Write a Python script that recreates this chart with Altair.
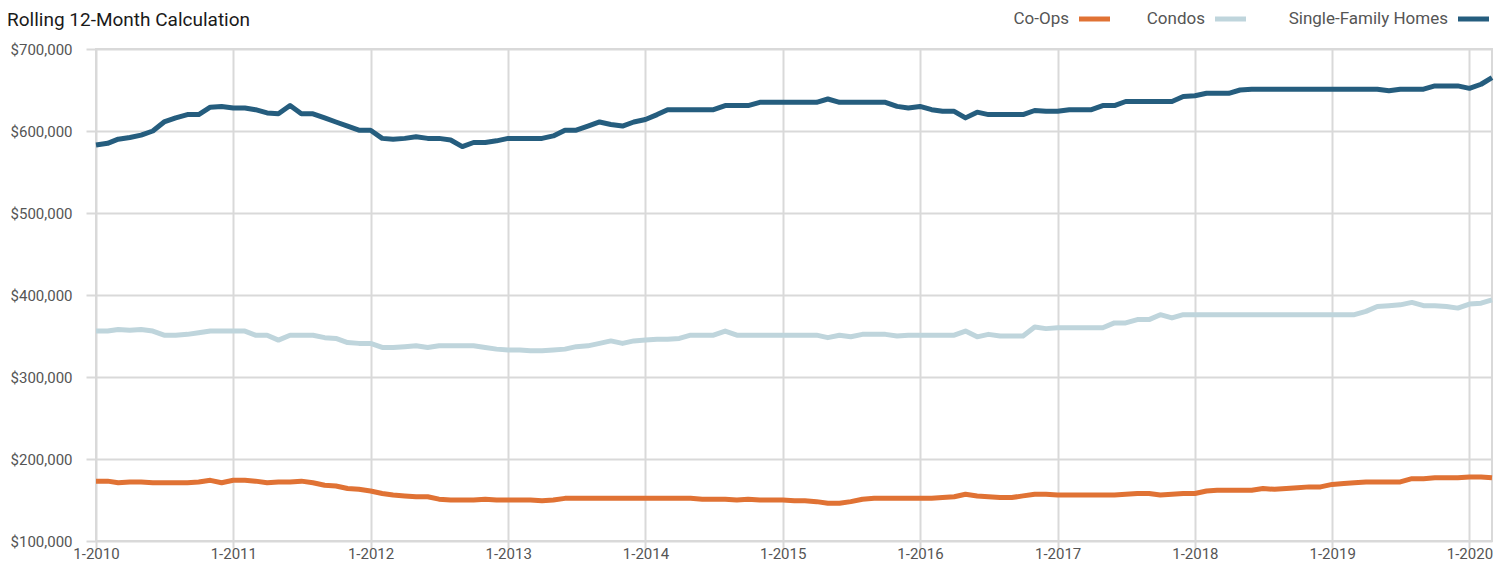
import altair as alt
import pandas as pd

FONT = "Roboto"
GRID = "#d9d9d9"

series_names = ["Co-Ops", "Condos", "Single-Family Homes"]
series_colors = ["#e07234", "#bfd5dc", "#255d7e"]

# monthly, 1-2010 .. 3-2020 (thousands of dollars)
months = pd.date_range("2010-01-01", periods=123, freq="MS")

coops = [
    173, 173, 171, 172, 172, 171, 171, 171, 171, 172, 174, 171,
    174, 174, 173, 171, 172, 172, 173, 171, 168, 167, 164, 163,
    161, 158, 156, 155, 154, 154, 151, 150, 150, 150, 151, 150,
    150, 150, 150, 149, 150, 152, 152, 152, 152, 152, 152, 152,
    152, 152, 152, 152, 152, 151, 151, 151, 150, 151, 150, 150,
    150, 149, 149, 148, 146, 146, 148, 151, 152, 152, 152, 152,
    152, 152, 153, 154, 157, 155, 154, 153, 153, 155, 157, 157,
    156, 156, 156, 156, 156, 156, 157, 158, 158, 156, 157, 158,
    158, 161, 162, 162, 162, 162, 164, 163, 164, 165, 166, 166,
    169, 170, 171, 172, 172, 172, 172, 176, 176, 177, 177, 177,
    178, 178, 177,
]

condos = [
    356, 356, 358, 357, 358, 356, 351, 351, 352, 354, 356, 356,
    356, 356, 351, 351, 345, 351, 351, 351, 348, 347, 342, 341,
    341, 336, 336, 337, 338, 336, 338, 338, 338, 338, 336, 334,
    333, 333, 332, 332, 333, 334, 337, 338, 341, 344, 341, 344,
    345, 346, 346, 347, 351, 351, 351, 356, 351, 351, 351, 351,
    351, 351, 351, 351, 348, 351, 349, 352, 352, 352, 350, 351,
    351, 351, 351, 351, 356, 349, 352, 350, 350, 350, 361, 359,
    360, 360, 360, 360, 360, 366, 366, 370, 370, 376, 372, 376,
    376, 376, 376, 376, 376, 376, 376, 376, 376, 376, 376, 376,
    376, 376, 376, 380, 386, 387, 388, 391, 387, 387, 386, 384,
    389, 390, 394,
]

sfh = [
    583, 585, 590, 592, 595, 600, 611, 616, 620, 620, 629, 630,
    628, 628, 626, 622, 621, 631, 621, 621, 616, 611, 606, 601,
    601, 591, 590, 591, 593, 591, 591, 589, 581, 586, 586, 588,
    591, 591, 591, 591, 594, 601, 601, 606, 611, 608, 606, 611,
    614, 620, 626, 626, 626, 626, 626, 631, 631, 631, 635, 635,
    635, 635, 635, 635, 639, 635, 635, 635, 635, 635, 630, 628,
    630, 626, 624, 624, 616, 623, 620, 620, 620, 620, 625, 624,
    624, 626, 626, 626, 631, 631, 636, 636, 636, 636, 636, 642,
    643, 646, 646, 646, 650, 651, 651, 651, 651, 651, 651, 651,
    651, 651, 651, 651, 651, 649, 651, 651, 651, 655, 655, 655,
    652, 657, 665,
]

y_ticks = [100000, 200000, 300000, 400000, 500000, 600000, 700000]

rows = []
for name, vals in zip(series_names, [coops, condos, sfh]):
    for d, v in zip(months, vals):
        rows.append({"month": d, "series": name, "value": v * 1000})
df = pd.DataFrame(rows)

lines = alt.Chart(df).mark_line(strokeWidth=5, strokeJoin="round").encode(
    x=alt.X(
        "month:T",
        title=None,
        scale=alt.Scale(domain=[alt.DateTime(year=2010, month=1, date=1),
                                alt.DateTime(year=2020, month=3, date=1)]),
        axis=alt.Axis(format="%-m-%Y",
                      tickCount=alt.TimeIntervalStep(interval="year", step=1),
                      tickSize=7, labelPadding=10, labelBaseline="alphabetic",
                      labelFlush=False),
    ),
    y=alt.Y(
        "value:Q",
        title=None,
        scale=alt.Scale(domain=[100000, 700000], nice=False),
        axis=alt.Axis(format="$,.0f", values=y_ticks, tickSize=10, labelPadding=14),
    ),
    color=alt.Color("series:N",
                    scale=alt.Scale(domain=series_names, range=series_colors),
                    legend=None),
)

title_df = pd.DataFrame({"t": ["Rolling 12-Month Calculation"]})
title = alt.Chart(title_df).mark_text(
    align="left", baseline="alphabetic", font=FONT, fontSize=19, color="#1a1a1a"
).encode(x=alt.value(-89), y=alt.value(-23), text="t:N")

legend_layers = []
label_right = [973, 1109, 1352]
sym_left = [983, 1119, 1362]
for name, color, lr, sl in zip(series_names, series_colors, label_right, sym_left):
    ldf = pd.DataFrame({"label": [name]})
    legend_layers.append(
        alt.Chart(ldf).mark_text(
            align="right", baseline="alphabetic", font=FONT, fontSize=17, color="#555555"
        ).encode(x=alt.value(lr), y=alt.value(-25), text="label:N")
    )
    legend_layers.append(
        alt.Chart(ldf).mark_rule(strokeWidth=5, color=color).encode(
            x=alt.value(sl), x2=alt.value(sl + 31), y=alt.value(-30)
        )
    )

chart = alt.layer(lines, title, *legend_layers).properties(
    width=1396,
    height=492,
    autosize=alt.AutoSizeParams(type="none"),
    padding={"left": 88, "top": 41, "right": 7, "bottom": 21},
).configure_view(
    stroke=GRID, strokeWidth=2
).configure_axis(
    domain=False,
    grid=True,
    gridColor=GRID,
    gridWidth=2,
    tickColor=GRID,
    tickWidth=2,
    labelFont=FONT,
    labelFontSize=15,
    labelColor="#555555",
)

chart.save("out.html", embed_options={"renderer": "svg", "actions": False})
